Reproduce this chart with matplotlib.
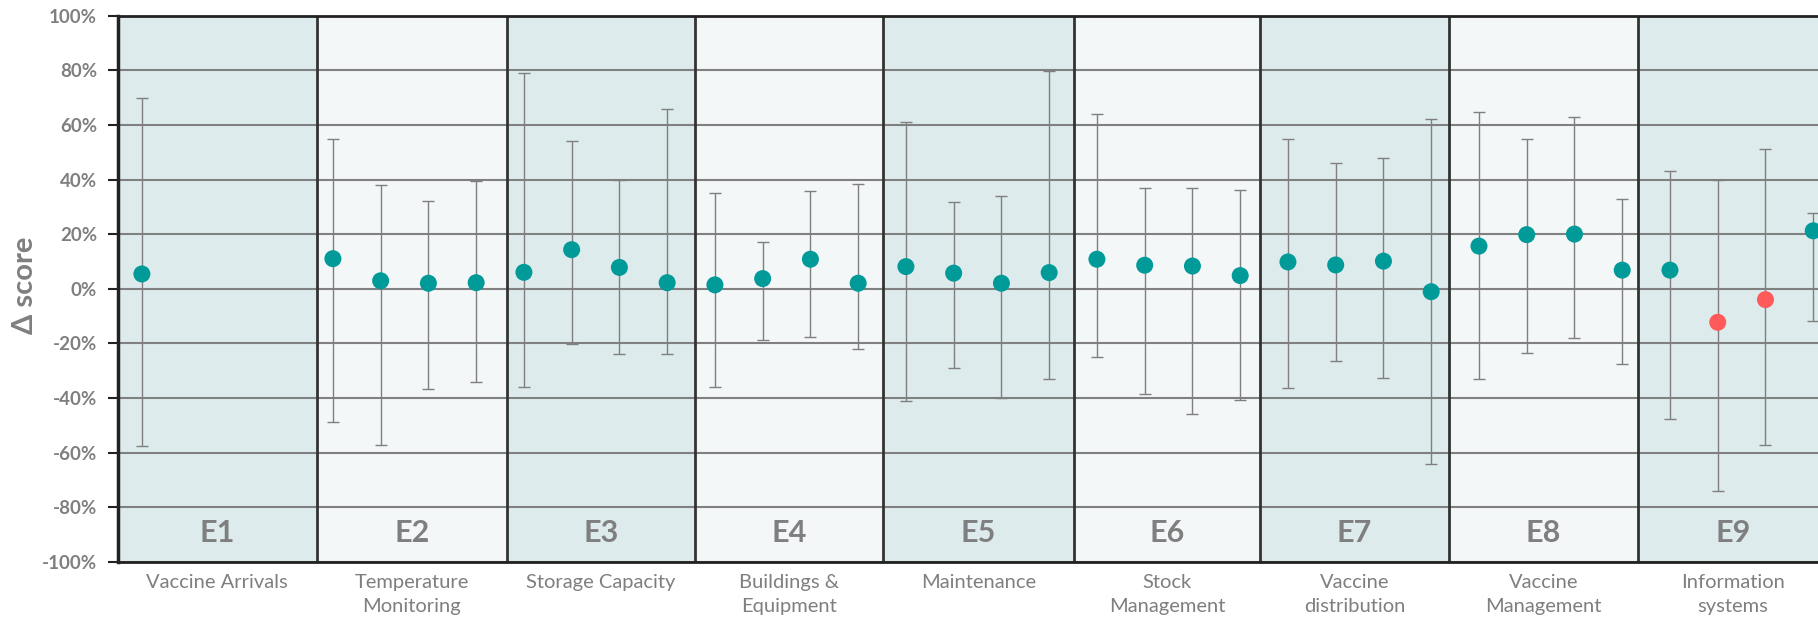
import numpy as np
import matplotlib
matplotlib.use("Agg")
import matplotlib.pyplot as plt
import matplotlib.transforms as mtransforms

plt.rcParams['font.family'] = ['Lato', 'DejaVu Sans']

# groups and their labels
groups = ['E1', 'E2', 'E3', 'E4', 'E5', 'E6', 'E7', 'E8', 'E9']
group_names = ['Vaccine Arrivals', 'Temperature\nMonitoring', 'Storage Capacity',
               'Buildings &\nEquipment', 'Maintenance', 'Stock\nManagement',
               'Vaccine\ndistribution', 'Vaccine\nManagement', 'Information\nsystems']

# slot index of each point (4 slots per group, E1 only uses the first one)
slots = [0,
         4, 5, 6, 7,
         8, 9, 10, 11,
         12, 13, 14, 15,
         16, 17, 18, 19,
         20, 21, 22, 23,
         24, 25, 26, 27,
         28, 29, 30, 31,
         32, 33, 34, 35]

# delta score (%), upper and lower ends of the interval
delta = [5.4,
         11.0, 2.9, 2.0, 2.2,
         6.0, 14.3, 7.8, 2.2,
         1.4, 3.7, 10.8, 2.0,
         8.1, 5.7, 2.0, 5.9,
         10.8, 8.6, 8.3, 4.8,
         9.8, 8.7, 10.1, -1.1,
         15.6, 19.8, 20.0, 6.8,
         6.8, -12.3, -4.0, 21.2]
upper = [70.0,
         54.8, 37.9, 32.1, 39.3,
         79.0, 54.0, 39.8, 65.8,
         34.9, 17.2, 35.7, 38.5,
         60.9, 31.9, 34.0, 79.7,
         64.0, 36.9, 36.9, 36.0,
         54.9, 45.9, 47.8, 62.0,
         64.8, 54.8, 62.8, 32.7,
         43.0, 39.8, 51.1, 27.8]
lower = [-57.6,
         -48.9, -57.3, -36.9, -34.2,
         -36.1, -20.3, -23.9, -23.9,
         -36.1, -18.9, -17.8, -22.2,
         -41.0, -29.0, -40.0, -33.2,
         -25.1, -38.4, -46.0, -40.8,
         -36.4, -26.6, -32.8, -64.3,
         -33.2, -23.4, -18.2, -27.7,
         -47.7, -74.0, -57.3, -11.9]
# points flagged as negative change
flagged = [30, 31]

# band edges (in slot units), bands are slightly off the slot grid
band_edges = [-0.5, 3.66, 7.64, 11.58, 15.52, 19.52, 23.41, 27.37, 31.33, 35.3]

teal = '#009a98'
red = '#ff5a5a'
grey = '#7f7f7f'
band_dark = '#ddebec'
band_light = '#f3f7f8'

fig = plt.figure(figsize=(18.18, 6.21), dpi=100)
ax = fig.add_axes([118/1818, 1 - 561.7/621, 1 - 118/1818, (561.7 - 15.7)/621])

x = np.array(slots, dtype=float)
y = np.array(delta)
yerr = np.array([y - np.array(lower), np.array(upper) - y])

# background bands
for i in range(len(groups)):
    ax.axvspan(band_edges[i], band_edges[i+1], color=band_dark if i % 2 == 0 else band_light,
               lw=0, zorder=0)
for e in band_edges[1:-1]:
    ax.axvline(e, color='#333333', lw=2, zorder=2)

ax.set_ylim(-100, 100)
ax.set_xlim(-0.5, 35.1)
ax.set_yticks(np.arange(-100, 101, 20))
ax.set_yticklabels([f'{v}%' for v in range(-100, 101, 20)])
ax.yaxis.grid(True, color='#808080', lw=1.5, zorder=1)
ax.set_axisbelow(True)
ax.set_xticks([])

colors = [red if i in flagged else teal for i in range(len(x))]
ax.errorbar(x, y, yerr=yerr, fmt='none', ecolor=grey, elinewidth=1, capsize=4,
            capthick=1, zorder=3)
ax.scatter(x, y, s=150, c=colors, zorder=4, linewidths=0)

# group names inside and below the plot
trans = mtransforms.blended_transform_factory(ax.transData, ax.transAxes)
for i in range(len(groups)):
    cx = (band_edges[i] + band_edges[i+1]) / 2
    ax.text(cx, -89.5, groups[i], ha='center', va='center', fontsize=22,
            fontweight='bold', color=grey, zorder=5)
    ax.text(cx, -0.022, group_names[i], transform=trans, ha='center', va='top',
            fontsize=14.5, color=grey, linespacing=1.5, clip_on=False)

for s in ['left', 'top', 'bottom']:
    ax.spines[s].set_color('#222222')
    ax.spines[s].set_linewidth(2)
ax.spines['left'].set_linewidth(2.5)
ax.spines['right'].set_visible(False)
ax.tick_params(axis='y', length=7, width=1.5, color='#222222', labelsize=13.5,
               labelcolor=grey, pad=8)
for lab in ax.get_yticklabels():
    lab.set_fontweight('bold')

fig.text(25/1818, 1 - 285/621, '\u0394 score', rotation=90, ha='center', va='center',
         fontsize=21, fontweight='bold', color=grey, family=['Lato', 'DejaVu Sans'])

fig.savefig('out.png', dpi=100)
